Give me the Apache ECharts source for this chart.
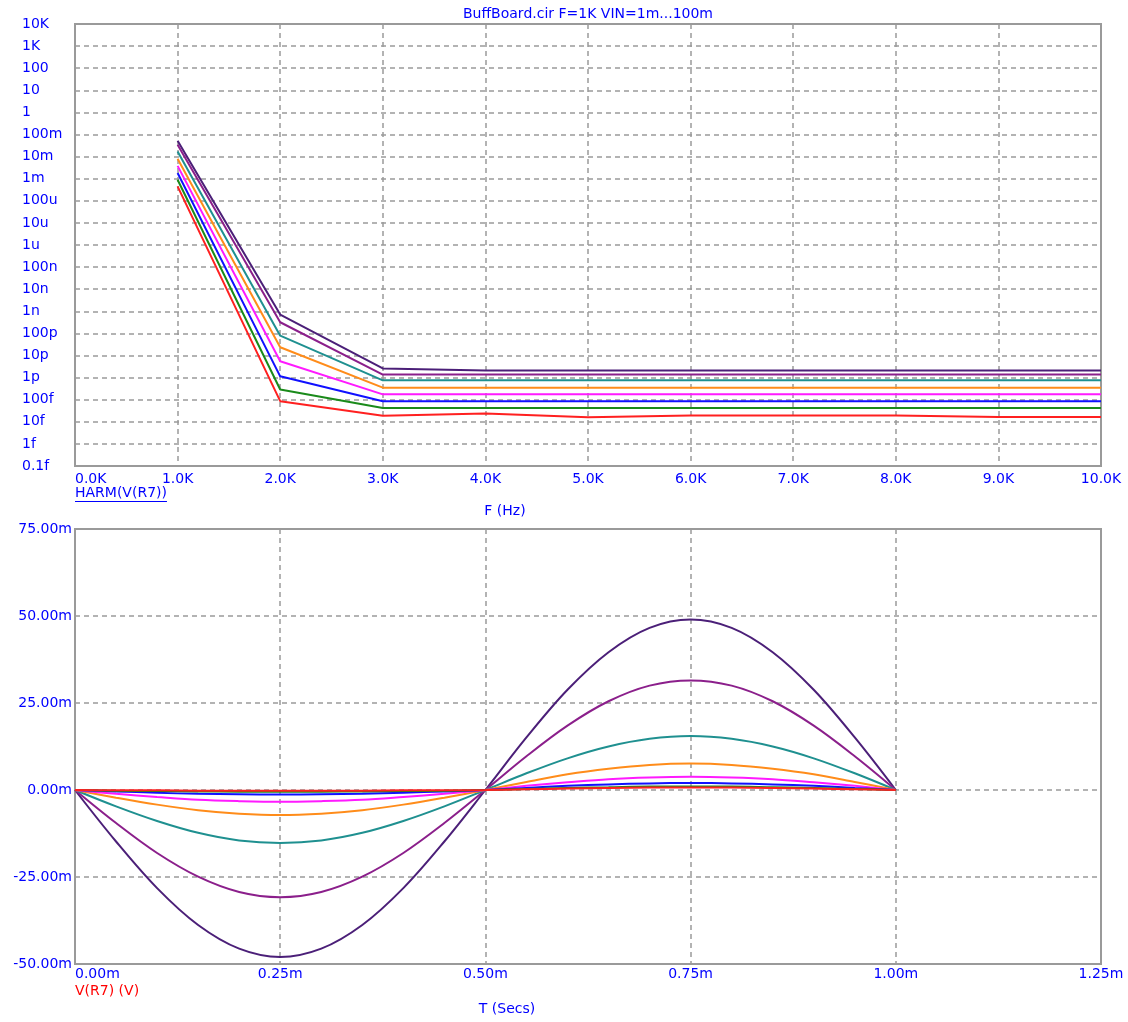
<!DOCTYPE html>
<html><head><meta charset="utf-8">
<script src="https://cdn.jsdelivr.net/npm/echarts@6/dist/echarts.min.js"></script>
<style>html,body{margin:0;padding:0;background:#fff}#c{width:1128px;height:1022px}</style>
</head><body><div id="c"></div>
<script>
// ---------- data ----------
const chartTitle = 'BuffBoard.cir F=1K VIN=1m...100m';
const seriesColors = ['#4b1f78', '#8b1f8b', '#1f9090', '#ff8c1a', '#ff1aff', '#1010ff', '#1a8a1a', '#ff2020'];
const seriesNames = ['VIN=100m', 'VIN=64m', 'VIN=32m', 'VIN=16m', 'VIN=8m', 'VIN=4m', 'VIN=2m', 'VIN=1m'];

// Top plot: harmonic magnitude (V) at each harmonic frequency (Hz)
const harmFreq = [1000, 2000, 3000, 4000, 5000, 6000, 7000, 8000, 9000, 10000];
const harmDarkPurple = [5.2e-2, 7.1e-10, 2.6e-12, 2.1e-12, 2.1e-12, 2.1e-12, 2.1e-12, 2.1e-12, 2.1e-12, 2.1e-12];
const harmPurple     = [3.4e-2, 3.2e-10, 1.37e-12, 1.37e-12, 1.37e-12, 1.37e-12, 1.37e-12, 1.37e-12, 1.37e-12, 1.37e-12];
const harmTeal       = [1.7e-2, 7.9e-11, 7.5e-13, 7.5e-13, 7.5e-13, 7.5e-13, 7.5e-13, 7.5e-13, 7.5e-13, 7.5e-13];
const harmOrange     = [8.0e-3, 2.36e-11, 3.5e-13, 3.5e-13, 3.5e-13, 3.5e-13, 3.5e-13, 3.5e-13, 3.5e-13, 3.5e-13];
const harmMagenta    = [3.8e-3, 5.5e-12, 1.75e-13, 1.75e-13, 1.75e-13, 1.75e-13, 1.75e-13, 1.75e-13, 1.75e-13, 1.75e-13];
const harmBlue       = [1.8e-3, 1.14e-12, 8.5e-14, 8.5e-14, 8.5e-14, 8.5e-14, 8.5e-14, 8.5e-14, 8.5e-14, 8.5e-14];
const harmGreen      = [9.0e-4, 2.9e-13, 4.2e-14, 4.2e-14, 4.2e-14, 4.2e-14, 4.2e-14, 4.2e-14, 4.2e-14, 4.2e-14];
const harmRed        = [4.5e-4, 8.6e-14, 1.9e-14, 2.4e-14, 1.6e-14, 1.95e-14, 1.95e-14, 1.95e-14, 1.65e-14, 1.65e-14];
const topYTickLabels = ['0.1f','1f','10f','100f','1p','10p','100p','1n','10n','100n','1u','10u','100u','1m','10m','100m','1','10','100','1K','10K'];

// Bottom plot: V(R7) in mV versus time in ms
const timeMs = [0, 0.05, 0.10, 0.15, 0.20, 0.25, 0.30, 0.35, 0.40, 0.45, 0.50, 0.55, 0.60, 0.65, 0.70, 0.75, 0.80, 0.85, 0.90, 0.95, 1.00];
const vDarkPurple = [0, -14.8, -28.2, -38.8, -45.6, -48.0, -45.6, -38.8, -28.2, -14.8, 0, 15.1, 28.8, 39.6, 46.6, 49.0, 46.6, 39.6, 28.8, 15.1, 0];
const vPurple     = [0, -9.5, -18.1, -24.9, -29.3, -30.8, -29.3, -24.9, -18.1, -9.5, 0, 9.7, 18.5, 25.5, 30.0, 31.5, 30.0, 25.5, 18.5, 9.7, 0];
const vTeal       = [0, -4.7, -8.9, -12.3, -14.5, -15.2, -14.5, -12.3, -8.9, -4.7, 0, 4.8, 9.1, 12.5, 14.7, 15.5, 14.7, 12.5, 9.1, 4.8, 0];
const vOrange     = [0, -2.2, -4.2, -5.8, -6.8, -7.2, -6.8, -5.8, -4.2, -2.2, 0, 2.3, 4.5, 6.1, 7.2, 7.6, 7.2, 6.1, 4.5, 2.3, 0];
const vMagenta    = [0, -1.1, -2.0, -2.8, -3.2, -3.4, -3.2, -2.8, -2.0, -1.1, 0, 1.2, 2.2, 3.1, 3.6, 3.8, 3.6, 3.1, 2.2, 1.2, 0];
const vBlue       = [0, -0.4, -0.8, -1.1, -1.2, -1.3, -1.2, -1.1, -0.8, -0.4, 0, 0.6, 1.2, 1.6, 1.9, 2.0, 1.9, 1.6, 1.2, 0.6, 0];
const vGreen      = [0, -0.2, -0.3, -0.4, -0.5, -0.5, -0.5, -0.4, -0.3, -0.2, 0, 0.3, 0.6, 0.8, 1.0, 1.0, 1.0, 0.8, 0.6, 0.3, 0];
const vRed        = [0, -0.1, -0.1, -0.2, -0.2, -0.2, -0.2, -0.2, -0.1, -0.1, 0, 0.2, 0.4, 0.6, 0.7, 0.7, 0.7, 0.6, 0.4, 0.2, 0];

const harmSets = [harmDarkPurple, harmPurple, harmTeal, harmOrange, harmMagenta, harmBlue, harmGreen, harmRed];
const timeSets = [vDarkPurple, vPurple, vTeal, vOrange, vMagenta, vBlue, vGreen, vRed];

// ---------- chart ----------
const FONT = '"DejaVu Sans", "Liberation Sans", sans-serif';
const BLUE = '#0000ff';
const GRIDCOL = '#9a9a9a';
const chart = echarts.init(document.getElementById('c'), null, {renderer: 'canvas'});

function measure(text, size) {
  const cv = document.createElement('canvas').getContext('2d');
  cv.font = size + 'px ' + FONT;
  return cv.measureText(text).width;
}

const splitLine = {show: true, lineStyle: {color: GRIDCOL, type: [5, 4], width: 1.5}};
const labelBase = {color: BLUE, fontFamily: FONT, fontSize: 14};

const series = [];
harmSets.forEach((vals, i) => {
  series.push({
    name: seriesNames[i], type: 'line', xAxisIndex: 0, yAxisIndex: 0,
    data: harmFreq.map((f, k) => [f, vals[k]]),
    showSymbol: false, symbol: 'none', animation: false,
    lineStyle: {color: seriesColors[i], width: 2}, itemStyle: {color: seriesColors[i]}
  });
});
timeSets.forEach((vals, i) => {
  series.push({
    name: seriesNames[i], type: 'line', xAxisIndex: 1, yAxisIndex: 1,
    data: timeMs.map((t, k) => [t, vals[k]]),
    smooth: 0.35, showSymbol: false, symbol: 'none', animation: false,
    lineStyle: {color: seriesColors[i], width: 2}, itemStyle: {color: seriesColors[i]}
  });
});

const harmLabel = 'HARM(V(R7))';
const harmW = measure(harmLabel, 14);

chart.setOption({
  animation: false,
  backgroundColor: '#ffffff',
  grid: [
    {left: 75, top: 24, width: 1026, height: 442, show: true, borderColor: GRIDCOL, borderWidth: 2, containLabel: false},
    {left: 75, top: 529, width: 1026, height: 435, show: true, borderColor: GRIDCOL, borderWidth: 2, containLabel: false}
  ],
  xAxis: [
    {type: 'value', gridIndex: 0, min: 0, max: 10000, interval: 1000,
     axisLine: {show: false}, axisTick: {show: false}, splitLine,
     axisLabel: Object.assign({}, labelBase, {margin: 6, alignMinLabel: 'left',
       formatter: v => (v / 1000).toFixed(1) + 'K'})},
    {type: 'value', gridIndex: 1, min: 0, max: 1.25, interval: 0.25,
     axisLine: {show: false}, axisTick: {show: false}, splitLine,
     axisLabel: Object.assign({}, labelBase, {margin: 3, alignMinLabel: 'left',
       formatter: v => v.toFixed(2) + 'm'})}
  ],
  yAxis: [
    {type: 'log', logBase: 10, gridIndex: 0, min: 1e-16, max: 1e4, interval: 1, splitNumber: 20,
     axisLine: {show: false}, axisTick: {show: false}, splitLine,
     axisLabel: Object.assign({}, labelBase, {margin: 53, align: 'left', showMinLabel: true, showMaxLabel: true,
       formatter: v => {
         const e = Math.round(Math.log10(v));
         return topYTickLabels[e + 16] || '';
       }})},
    {type: 'value', gridIndex: 1, min: -50, max: 75, interval: 25,
     axisLine: {show: false}, axisTick: {show: false}, splitLine,
     axisLabel: Object.assign({}, labelBase, {margin: 3, align: 'right',
       formatter: v => v.toFixed(2) + 'm'})}
  ],
  graphic: [
    {type: 'text', x: 588, y: 14, style: {text: chartTitle, fill: BLUE, font: '14px ' + FONT, align: 'center', verticalAlign: 'middle'}},
    {type: 'text', x: 75, y: 493, style: {text: harmLabel, fill: BLUE, font: '14px ' + FONT, align: 'left', verticalAlign: 'middle'}},
    {type: 'line', shape: {x1: 75, y1: 501.5, x2: 75 + harmW, y2: 501.5}, style: {stroke: BLUE, lineWidth: 1}},
    {type: 'text', x: 505, y: 511, style: {text: 'F (Hz)', fill: BLUE, font: '14px ' + FONT, align: 'center', verticalAlign: 'middle'}},
    {type: 'text', x: 75, y: 991, style: {text: 'V(R7) (V)', fill: '#ff0000', font: '14px ' + FONT, align: 'left', verticalAlign: 'middle'}},
    {type: 'text', x: 507, y: 1009, style: {text: 'T (Secs)', fill: BLUE, font: '14px ' + FONT, align: 'center', verticalAlign: 'middle'}}
  ],
  series
});
</script>
</body></html>
